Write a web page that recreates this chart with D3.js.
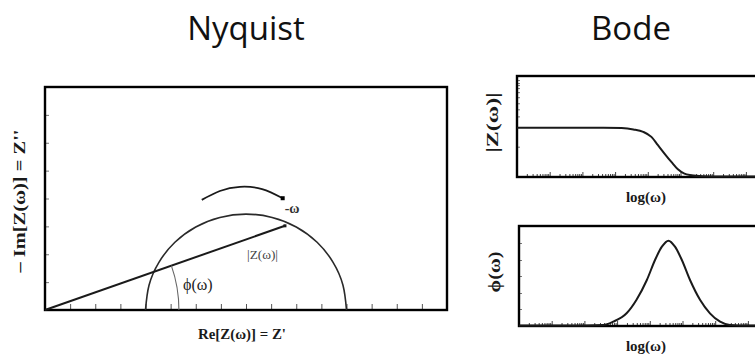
<!DOCTYPE html>
<html>
<head>
<meta charset="utf-8">
<script src="https://cdn.jsdelivr.net/npm/d3@7"></script>
<style>
  html, body { margin: 0; padding: 0; background: #fff; }
  svg { display: block; }
</style>
</head>
<body>
<svg id="chart" width="755" height="354"></svg>
<script>
// ---- Nyquist plane: impedance arc (Z', -Z'') ----
const arcRe = [4.0, 4.14, 4.54, 5.17, 6.0, 6.96, 8.0, 9.04, 10.0, 10.83, 11.46, 11.86, 12.0];
const arcIm = [0.0, 0.89, 1.72, 2.43, 2.98, 3.32, 3.44, 3.32, 2.98, 2.43, 1.72, 0.89, 0.0];

// Impedance vector tip |Z(ω)| at one frequency
const vectorTip = [9.55, 3.02];
// Radius of the phase-angle marker arc
const phiRadius = 5.33;

// Direction-of-frequency sweep arrow
const sweepRe = [6.24, 6.96, 7.76, 8.64, 9.46];
const sweepIm = [3.95, 4.27, 4.42, 4.34, 4.01];

const nyqXTicks = [1, 2, 3, 4, 5, 6, 7, 8, 9, 10, 11, 12, 13, 14, 15];
const nyqYTicks = [1, 2, 3, 4, 5, 6, 7];

// ---- Bode magnitude |Z(ω)| vs log(ω) ----
const magLogW = [0, 1, 2, 2.64, 3.2, 3.56, 3.86, 4.11, 4.31, 4.51, 4.72, 4.92, 5.12, 5.33, 5.68, 6.2, 7.0, 7.5];
const magVal  = [0.487, 0.487, 0.487, 0.487, 0.484, 0.471, 0.447, 0.397, 0.315, 0.232, 0.149, 0.076, 0.033, 0.017, 0.007, 0.004, 0.004, 0.004];
const magYTicks = [0.3, 0.6, 0.67, 0.73, 0.79, 0.84, 0.88, 0.91, 0.93, 0.96];

// ---- Bode phase ϕ(ω) vs log(ω) ----
const phaseLogW = [0, 1, 2, 2.58, 2.88, 3.29, 3.59, 3.91, 4.16, 4.37, 4.57, 4.77, 4.98, 5.23, 5.54, 5.84, 6.15, 6.45, 7.0, 7.5];
const phaseVal  = [0.005, 0.005, 0.006, 0.01, 0.043, 0.127, 0.26, 0.46, 0.66, 0.793, 0.853, 0.793, 0.66, 0.46, 0.26, 0.127, 0.043, 0.01, 0.005, 0.005];
const phaseYTicks = [0.17, 0.33, 0.5, 0.66, 0.83];

const titles = ["Nyquist", "Bode"];

const svg = d3.select("#chart");
const ink = "#1a1a1a";
const serif = "'Liberation Serif', 'DejaVu Serif', serif";

svg.append("rect").attr("width", 755).attr("height", 354).attr("fill", "#fff");

// Titles
svg.append("text").attr("x", 246).attr("y", 40).attr("text-anchor", "middle")
  .attr("font-family", "'Open Sans', sans-serif").attr("font-size", 33).attr("fill", "#111")
  .text(titles[0]);
svg.append("text").attr("x", 631).attr("y", 40).attr("text-anchor", "middle")
  .attr("font-family", "'Open Sans', sans-serif").attr("font-size", 33).attr("fill", "#111")
  .text(titles[1]);

// ================= Nyquist =================
const nq = { left: 45, right: 447, top: 87, bottom: 310 };
const x = d3.scaleLinear([0, 16], [nq.left, nq.right]);
const y = d3.scaleLinear([0, 8], [nq.bottom, nq.top]);

const nqG = svg.append("g");

nqG.append("g").attr("transform", `translate(0,${nq.bottom})`)
  .call(d3.axisBottom(x).tickValues(nyqXTicks).tickSize(-6).tickFormat(""))
  .call(g => g.select(".domain").remove())
  .call(g => g.selectAll(".tick line").attr("stroke", "#555").attr("stroke-width", 1));

nqG.append("g").attr("transform", `translate(${nq.left},0)`)
  .call(d3.axisLeft(y).tickValues(nyqYTicks).tickSize(-4).tickFormat(""))
  .call(g => g.select(".domain").remove())
  .call(g => g.selectAll(".tick line").attr("stroke", "#777").attr("stroke-width", 1));

nqG.append("rect")
  .attr("x", nq.left).attr("y", nq.top)
  .attr("width", nq.right - nq.left).attr("height", nq.bottom - nq.top)
  .attr("fill", "none").attr("stroke", "#000").attr("stroke-width", 2.4);

// Impedance arc
const arcPts = arcRe.map((r, i) => [r, arcIm[i]]);
nqG.append("path")
  .attr("d", d3.line().x(d => x(d[0])).y(d => y(d[1])).curve(d3.curveNatural)(arcPts))
  .attr("fill", "none").attr("stroke", "#2a2a2a").attr("stroke-width", 1.6);

// Vector from origin to |Z(ω)| tip
nqG.append("line")
  .attr("x1", x(0)).attr("y1", y(0))
  .attr("x2", x(vectorTip[0])).attr("y2", y(vectorTip[1]))
  .attr("stroke", ink).attr("stroke-width", 2);
nqG.append("rect")
  .attr("x", x(vectorTip[0]) - 1.5).attr("y", y(vectorTip[1]) - 1.5)
  .attr("width", 3).attr("height", 3).attr("fill", ink);

// Phase angle marker
const ang = Math.atan2(y(0) - y(vectorTip[1]), x(vectorTip[0]) - x(0));
const pr = x(phiRadius) - x(0);
const pp = d3.path();
pp.moveTo(x(0) + pr, y(0));
pp.arc(x(0), y(0), pr, 0, -ang, true);
nqG.append("path").attr("d", pp.toString())
  .attr("fill", "none").attr("stroke", "#666").attr("stroke-width", 1.1);

// Sweep arrow
const sweepPts = sweepRe.map((r, i) => [r, sweepIm[i]]);
nqG.append("path")
  .attr("d", d3.line().x(d => x(d[0])).y(d => y(d[1])).curve(d3.curveNatural)(sweepPts))
  .attr("fill", "none").attr("stroke", ink).attr("stroke-width", 1.8);
const last = sweepPts[sweepPts.length - 1];
nqG.append("rect")
  .attr("x", x(last[0]) - 2).attr("y", y(last[1]) - 2)
  .attr("width", 4).attr("height", 4).attr("fill", "#000");

// Annotations
nqG.append("text").attr("x", x(last[0]) + 2).attr("y", y(last[1]) + 15)
  .attr("font-family", serif).attr("font-size", 14).attr("font-weight", "bold").attr("fill", "#333")
  .text("-ω");
nqG.append("text").attr("x", 247).attr("y", 259)
  .attr("font-family", serif).attr("font-size", 13).attr("fill", "#444")
  .attr("textLength", 31).attr("lengthAdjust", "spacingAndGlyphs")
  .text("|Z(ω)|");
nqG.append("text").attr("x", 183).attr("y", 290)
  .attr("font-family", serif).attr("font-size", 16).attr("fill", "#222")
  .text("ϕ(ω)");

// Axis titles
nqG.append("text").attr("x", 242).attr("y", 339).attr("text-anchor", "middle")
  .attr("font-family", serif).attr("font-size", 15).attr("font-weight", "bold").attr("fill", "#1a1a1a")
  .attr("textLength", 88).attr("lengthAdjust", "spacingAndGlyphs")
  .text("Re[Z(ω)] = Z'");
nqG.append("text")
  .attr("transform", "translate(25,201) rotate(-90)").attr("text-anchor", "middle")
  .attr("font-family", serif).attr("font-size", 16).attr("font-weight", "bold").attr("fill", "#1a1a1a")
  .attr("textLength", 143).attr("lengthAdjust", "spacingAndGlyphs")
  .text("–  Im[Z(ω)] = Z''");

// ================= Bode =================
function bodePanel(box, logW, vals, yTicks, yLabel, yLabelLen) {
  const bx = d3.scaleLog([1, Math.pow(10, 7.5)], [box.left, box.left + 7.5 * 32.7]);
  const by = d3.scaleLinear([0, 1], [box.bottom, box.top]);
  const g = svg.append("g");

  const minor = bx.ticks();
  g.append("g").attr("transform", `translate(0,${box.bottom})`)
    .call(d3.axisBottom(bx).tickValues(minor).tickSize(-3).tickFormat(""))
    .call(a => a.select(".domain").remove())
    .call(a => a.selectAll(".tick line").attr("stroke", "#444").attr("stroke-width", 1)
      .attr("y2", d => (Math.abs(Math.log10(d) - Math.round(Math.log10(d))) < 1e-9 ? -5 : -3)));

  g.append("g").attr("transform", `translate(${box.left},0)`)
    .call(d3.axisLeft(by).tickValues(yTicks).tickSize(-3).tickFormat(""))
    .call(a => a.select(".domain").remove())
    .call(a => a.selectAll(".tick line").attr("stroke", "#777").attr("stroke-width", 1));

  g.append("rect")
    .attr("x", box.left).attr("y", box.top)
    .attr("width", box.right - box.left).attr("height", box.bottom - box.top)
    .attr("fill", "none").attr("stroke", "#000").attr("stroke-width", 2.4);

  const pts = logW.map((w, i) => [Math.pow(10, w), vals[i]]);
  g.append("path")
    .attr("d", d3.line().x(d => bx(d[0])).y(d => by(d[1])).curve(d3.curveMonotoneX)(pts))
    .attr("fill", "none").attr("stroke", ink).attr("stroke-width", 2);

  g.append("text").attr("x", 646).attr("y", box.bottom + 25).attr("text-anchor", "middle")
    .attr("font-family", serif).attr("font-size", 15).attr("font-weight", "bold").attr("fill", "#1a1a1a")
    .text("log(ω)");
  g.append("text")
    .attr("transform", `translate(${box.left - 19},${(box.top + box.bottom) / 2 - 4}) rotate(-90)`)
    .attr("text-anchor", "middle")
    .attr("font-family", serif).attr("font-size", 16).attr("font-weight", "bold").attr("fill", "#1a1a1a")
    .attr("textLength", yLabelLen).attr("lengthAdjust", "spacingAndGlyphs")
    .text(yLabel);
}

bodePanel({ left: 517, right: 762, top: 76, bottom: 177 }, magLogW, magVal, magYTicks, "|Z(ω)|", 60);
bodePanel({ left: 519, right: 762, top: 226, bottom: 326 }, phaseLogW, phaseVal, phaseYTicks, "ϕ(ω)", 41);
</script>
</body>
</html>
